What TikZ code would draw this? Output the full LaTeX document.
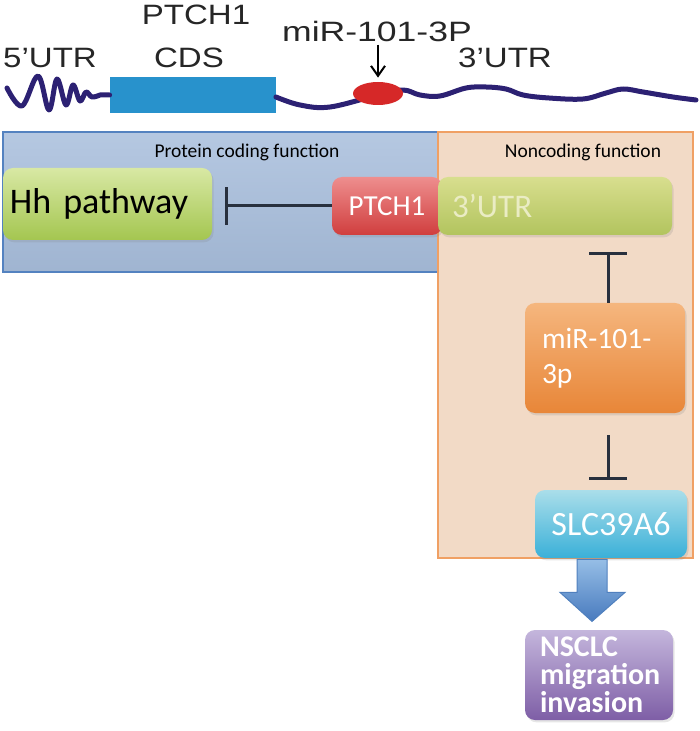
\documentclass[tikz,border=0pt]{standalone}
\usepackage{graphicx}
\usepackage{fontspec}
\setmainfont{Carlito}
\newfontfamily\arialfont{Liberation Sans}
\usetikzlibrary{arrows.meta,calc,shapes.geometric,shadows}

\definecolor{rnaline}{RGB}{44,33,115}
\definecolor{cdsblue}{RGB}{40,146,204}
\definecolor{sitered}{RGB}{214,40,40}
\definecolor{panelblue}{RGB}{168,190,220}
\definecolor{panelblueedge}{RGB}{84,130,192}
\definecolor{panelpeach}{RGB}{242,218,198}
\definecolor{panelpeachedge}{RGB}{240,160,100}
\definecolor{inhib}{RGB}{40,48,62}
\definecolor{utrtext}{RGB}{234,236,196}

\newcommand{\widelabel}[2][1.18]{\scalebox{#1}[1]{#2}}

\tikzset{
  toplabel/.style={font=\arialfont\fontsize{14}{14}\selectfont, text=black!85, inner sep=0pt},
  paneltitle/.style={font=\fontsize{9.75}{10}\selectfont, inner sep=0pt},
  genebox/.style={rounded corners=5pt, inner sep=0pt, text=white,
    drop shadow={opacity=0.2, shadow xshift=0.8pt, shadow yshift=-1.2pt}},
  inhibit/.style={draw=inhib, line width=1.5pt, -{Bar[width=19pt,line width=1.5pt]}},
  rna/.style={draw=rnaline, line width=2.5pt, line cap=round, line join=round}
}

\begin{document}
\begin{tikzpicture}[x=0.5pt, y=-0.5pt]
  \useasboundingbox (0,0) rectangle (699,731);

  % gene model
  \node[toplabel] (ptchlabel) at (196,15) {\widelabel{PTCH1}};
  \node[toplabel] (utr5label) at (50,58) {\widelabel{5’UTR}};
  \node[toplabel] (cdslabel) at (189,58) {\widelabel{CDS}};
  \node[toplabel] (mirlabel) at (377,31) {\widelabel[1.27]{miR-101-3P}};
  \node[toplabel] (utr3label) at (505,58) {\widelabel{3’UTR}};

  \node[fill=cdsblue, minimum width=83pt, minimum height=18pt, inner sep=0pt] (cds) at (193,95) {};
  \draw[rna] plot[smooth, tension=0.6] coordinates {(7,88) (22,106) (38,76) (49,110) (57,79) (66,105) (73,85) (80,101) (86,92) (92,97) (100,95)} -- (cds.west);
  \draw[rna] plot[smooth, tension=0.6] coordinates {(276,97) (300,105) (330,107) (378,95) (403,90) (420,95) (440,96) (466,88) (486,87) (506,89) (523,95) (549,98) (583,99) (606,93) (623,89) (643,92) (673,97) (696,100)};
  \node[ellipse, fill=sitered, minimum width=25pt, minimum height=11.5pt, inner sep=0pt] (site) at (378,93.5) {};
  \draw[line width=1pt, -{Straight Barb[length=5pt,width=7pt,line width=1pt]}, shorten <=1.5pt, shorten >=2pt] (mirlabel.south -| site.north) -- (site.north);

  % panels
  \node[draw=panelblueedge, top color=panelblue!85!white, bottom color=panelblue!95!black, line width=0.6pt, minimum width=217.5pt, minimum height=70pt, inner sep=0pt] (codingpanel) at (220.5,202) {};
  \node[draw=panelpeachedge, fill=panelpeach, line width=0.6pt, minimum width=127.5pt, minimum height=213pt, inner sep=0pt] (noncodingpanel) at (565.5,345) {};
  \node[paneltitle] (codingtitle) at (247,152) {Protein coding function};
  \node[paneltitle] (noncodingtitle) at (583,152) {Noncoding function};

  % boxes
  \node[genebox, top color={rgb,255:red,216;green,232;blue,164}, bottom color={rgb,255:red,164;green,198;blue,80},
    minimum width=104.5pt, minimum height=36pt, text width=97.5pt, inner xsep=3.5pt, align=left, text=black,
    font=\fontsize{18}{18}\selectfont] (hh) at (107.5,204) {Hh pathway};
  \node[genebox, top color={rgb,255:red,238;green,142;blue,142}, bottom color={rgb,255:red,208;green,62;blue,62},
    minimum width=55pt, minimum height=29pt, font=\fontsize{14.5}{14.5}\selectfont] (ptch) at (387,206) {PTCH1};
  \node[genebox, top color={rgb,255:red,216;green,222;blue,142}, bottom color={rgb,255:red,178;green,196;blue,94},
    minimum width=117pt, minimum height=29pt, text width=103pt, inner xsep=7pt, align=left, text=utrtext,
    font=\fontsize{16.5}{16.5}\selectfont] (utr) at (555,206) {3’UTR};
  \node[genebox, top color={rgb,255:red,245;green,182;blue,126}, bottom color={rgb,255:red,232;green,134;blue,56},
    minimum width=80pt, minimum height=55pt, text width=63pt, inner xsep=8.5pt, align=left,
    font=\fontsize{14.75}{17.5}\selectfont] (mir) at (605,358) {miR-101-\\3p};
  \node[genebox, top color={rgb,255:red,170;green,222;blue,234}, bottom color={rgb,255:red,58;green,176;blue,216},
    minimum width=76pt, minimum height=34pt, font=\fontsize{17}{17}\selectfont] (slc) at (611,524) {SLC39A6};
  \node[genebox, top color={rgb,255:red,196;green,182;blue,220}, bottom color={rgb,255:red,126;green,94;blue,166},
    minimum width=74pt, minimum height=45pt, text width=59pt, inner xsep=7.5pt, align=left,
    font=\bfseries\fontsize{15}{14}\selectfont] (nsclc) at (599,675) {NSCLC\\migration\\invasion};

  % regulation
  \draw[inhibit, shorten >=6.5pt] (ptch.west) -- (ptch.west -| hh.east);
  \draw[inhibit, shorten >=8.5pt] ([xshift=1.5pt]mir.north) -- ([xshift=1.5pt]utr.south -| mir.north);
  \draw[inhibit, shorten <=11pt, shorten >=5pt] ([xshift=1.5pt]mir.south) -- ([xshift=1.5pt]slc.north -| mir.south);

  \coordinate (arrtop) at ($(slc.south)+(-19,1)$);
  \draw[draw={rgb,255:red,80;green,128;blue,190}, line width=0.5pt,
    top color={rgb,255:red,150;green,190;blue,230}, bottom color={rgb,255:red,72;green,122;blue,190}]
    (arrtop) ++(-15,0) -- ++(0,33) -- ++(-17,0) -- ++(32,29) -- ++(33,-29) -- ++(-18,0) -- ++(0,-33) -- cycle;
\end{tikzpicture}
\end{document}
